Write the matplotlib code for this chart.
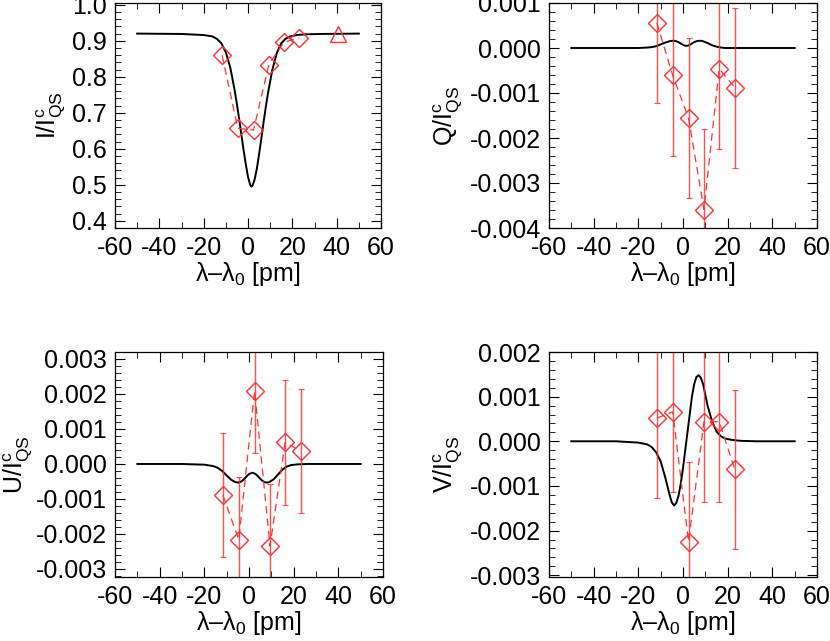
import matplotlib
matplotlib.use("Agg")
import matplotlib.pyplot as plt
from matplotlib.ticker import MultipleLocator, FormatStrFormatter

plt.rcParams['font.family'] = ['Liberation Sans', 'DejaVu Sans']
plt.rcParams['mathtext.fontset'] = 'custom'
plt.rcParams['mathtext.rm'] = 'Liberation Sans'
plt.rcParams['mathtext.it'] = 'Liberation Sans'
plt.rcParams['axes.unicode_minus'] = False

# observed wavelength positions [pm]
obs_x = [-11.7, -4.6, 2.5, 9.4, 16.2, 23.2]
obs_I = [0.860, 0.657, 0.652, 0.834, 0.896, 0.908]
tri_x = [40.5]
tri_I = [0.918]
obs_Q = [0.00056, -0.00061, -0.00156, -0.00359, -0.00046, -0.00088]
obs_U = [-0.00089, -0.00216, 0.00209, -0.00234, 0.00062, 0.00037]
obs_V = [0.00052, 0.00066, -0.00225, 0.00044, 0.00044, -0.00063]
err_Q = [0.00178] * 6
err_U = [0.00178] * 6
err_V = [0.00179] * 6

# model profiles
mod_x = [-50, -30, -20, -16, -14, -12, -10, -8, -6, -5, -4, -3, -2, -1, 0, 1, 1.5, 2, 3, 4,
         5, 6, 7, 8, 9, 11, 13, 15, 17, 19, 22, 26, 33, 50]
mod_I = [0.920, 0.919, 0.916, 0.912, 0.905, 0.893, 0.868, 0.826, 0.762, 0.724, 0.683,
         0.640, 0.597, 0.557, 0.522, 0.500, 0.495, 0.497, 0.515, 0.545, 0.585, 0.628,
         0.673, 0.715, 0.754, 0.820, 0.866, 0.893, 0.906, 0.912, 0.916, 0.918, 0.919, 0.920]
mod_Q = [0.0, 0.0, 0.0, 0.00001, 0.00002, 0.00004, 0.00008, 0.00012, 0.00015, 0.00016,
         0.00016, 0.00015, 0.00013, 0.00010, 0.00007, 0.00005, 0.00005, 0.00005, 0.00007,
         0.00010, 0.00013, 0.00015, 0.00016, 0.00016, 0.00015, 0.00011, 0.00006, 0.00003,
         0.00001, 0.0, 0.0, 0.0, 0.0, 0.0]
mod_U = [0.0, 0.0, -0.00002, -0.00006, -0.00011, -0.00020, -0.00033, -0.00045, -0.00052,
         -0.00053, -0.00052, -0.00048, -0.00042, -0.00035, -0.00029, -0.00026, -0.00025,
         -0.00026, -0.00029, -0.00035, -0.00042, -0.00048, -0.00052, -0.00053, -0.00052,
         -0.00044, -0.00030, -0.00016, -0.00007, -0.00003, -0.00001, 0.0, 0.0, 0.0]
mod_V = [0.0, 0.0, -0.00003, -0.00007, -0.00013, -0.00025, -0.00045, -0.00080, -0.00120,
         -0.00137, -0.00144, -0.00138, -0.00122, -0.00095, -0.00060, -0.00020, 0.00000,
         0.00020, 0.00060, 0.00100, 0.00128, 0.00144, 0.00148, 0.00142, 0.00128, 0.00080,
         0.00045, 0.00022, 0.00011, 0.00006, 0.00003, 0.00001, 0.0, 0.0]

fig = plt.figure(figsize=(8.3, 6.41), dpi=100)
W, H = 830, 641
def ax_at(l, r, t, b):
    return fig.add_axes([l / W, 1 - b / H, (r - l) / W, (b - t) / H])

axI = ax_at(115, 381, 3, 228)
axQ = ax_at(549, 817, 3, 228)
axU = ax_at(115, 383, 352, 577)
axV = ax_at(549, 817, 352, 577)

red = '#ff3030'
fs = 18

def style(ax, ylim, major, minor, fmt, ylabel, lp=3):
    ax.set_xlim(-60, 60)
    ax.set_ylim(*ylim)
    ax.xaxis.set_major_locator(MultipleLocator(20))
    ax.xaxis.set_minor_locator(MultipleLocator(10))
    ax.yaxis.set_major_locator(MultipleLocator(major))
    ax.yaxis.set_minor_locator(MultipleLocator(minor))
    ax.yaxis.set_major_formatter(FormatStrFormatter(fmt))
    ax.tick_params(which='both', direction='in', top=True, right=True, labelsize=fs, pad=6)
    ax.tick_params(which='major', length=7, width=0.8)
    ax.tick_params(which='minor', length=4, width=0.6)
    ax.set_xlabel(r'λ–λ$_0$ [pm]', fontsize=fs, labelpad=0)
    ax.set_ylabel(ylabel, fontsize=fs, labelpad=lp)
    for s in ax.spines.values():
        s.set_linewidth(0.9)

def obs(ax, y, err):
    ax.errorbar(obs_x, y, yerr=err, fmt='none', ecolor=red, elinewidth=1.0,
                capsize=2, capthick=0.8, alpha=0.85)
    ax.plot(obs_x, y, color=red, ls=(0, (6, 4)), lw=0.9, marker='D', ms=9,
            mfc='none', mec=red, mew=1.0)

axI.plot(mod_x, mod_I, color='black', lw=1.4)
axI.plot(obs_x, obs_I, color=red, ls=(0, (6, 4)), lw=0.9, marker='D', ms=9,
         mfc='none', mec=red, mew=1.0)
axI.plot(tri_x, tri_I, ls='none', marker='^', ms=11, mfc='none', mec=red, mew=1.0)
style(axI, (0.38, 1.005), 0.1, 0.02, '%.1f', r'I/I$^{\rm c}_{\rm QS}$')

axQ.plot(mod_x, mod_Q, color='black', lw=1.4)
obs(axQ, obs_Q, err_Q)
style(axQ, (-0.004, 0.001), 0.001, 0.0002, '%.3f', r'Q/I$^{\rm c}_{\rm QS}$')

axU.plot(mod_x, mod_U, color='black', lw=1.4)
obs(axU, obs_U, err_U)
style(axU, (-0.00323, 0.0032), 0.001, 0.0002, '%.3f', r'U/I$^{\rm c}_{\rm QS}$', lp=0)

axV.plot(mod_x, mod_V, color='black', lw=1.4)
obs(axV, obs_V, err_V)
style(axV, (-0.00304, 0.002), 0.001, 0.0002, '%.3f', r'V/I$^{\rm c}_{\rm QS}$')

fig.savefig('out.png', dpi=100)
